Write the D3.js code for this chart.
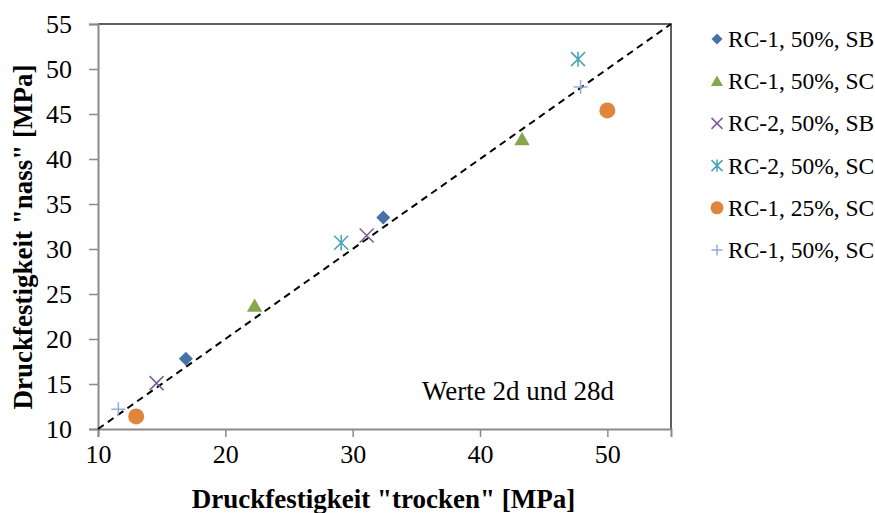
<!DOCTYPE html>
<html>
<head>
<meta charset="utf-8">
<script src="https://cdn.jsdelivr.net/npm/d3@7"></script>
<style>
  html, body { margin: 0; padding: 0; background: #fff; }
  svg text { font-family: "Liberation Serif", serif; fill: #000; }
</style>
</head>
<body>
<svg id="chart" width="875" height="513"></svg>
<script>
// Compressive strength: dry vs. wet, per mix
const seriesNames = [
  "RC-1, 50%, SB",
  "RC-1, 50%, SC",
  "RC-2, 50%, SB",
  "RC-2, 50%, SC",
  "RC-1, 25%, SC",
  "RC-1, 50%, SC"
];
const seriesSymbols = ["diamond", "triangle", "cross", "asterisk", "circle", "plus"];
const seriesColors = ["#4672a8", "#88a64c", "#7b5c9e", "#45a2ba", "#e0863c", "#94aedb"];
// [trocken, nass] pairs at 2d and 28d
const rc1_50_SB = [[16.9, 17.8], [32.4, 33.5]];
const rc1_50_SC = [[22.3, 23.7], [43.3, 42.2]];
const rc2_50_SB = [[14.6, 15.1], [31.1, 31.5]];
const rc2_50_SC = [[29.1, 30.7], [47.7, 51.1]];
const rc1_25_SC = [[13.0, 11.4], [50.0, 45.4]];
const rc1_50_SC_b = [[11.6, 12.2], [47.9, 48.0]];
const seriesData = [rc1_50_SB, rc1_50_SC, rc2_50_SB, rc2_50_SC, rc1_25_SC, rc1_50_SC_b];

const xTicks = [10, 20, 30, 40, 50];
const yTicks = [10, 15, 20, 25, 30, 35, 40, 45, 50, 55];
const xDomain = [10, 55];
const yDomain = [10, 55];
const identityLine = [[10, 10], [55, 55]];

const FONT = "'Liberation Serif', serif";
const svg = d3.select("#chart");
const plot = { left: 98, top: 24, right: 671, bottom: 429 };

const x = d3.scaleLinear().domain(xDomain).range([plot.left, plot.right]);
const y = d3.scaleLinear().domain(yDomain).range([plot.bottom, plot.top]);

// top and right frame
svg.append("path")
  .attr("d", `M${plot.left},${plot.top}H${plot.right}V${plot.bottom}`)
  .attr("fill", "none").attr("stroke", "#2b2b2b").attr("stroke-width", 1.5);

// axes
const xAxis = svg.append("g")
  .attr("transform", `translate(0,${plot.bottom})`)
  .call(d3.axisBottom(x).tickValues(xTicks).tickSize(8).tickPadding(8).tickFormat(d3.format("d")));
const yAxis = svg.append("g")
  .attr("transform", `translate(${plot.left},0)`)
  .call(d3.axisLeft(y).tickValues(yTicks).tickSize(9).tickPadding(17).tickFormat(d3.format("d")));

[xAxis, yAxis].forEach(g => {
  g.attr("font-family", FONT).attr("font-size", 26);
  g.select(".domain").attr("stroke", "#8a8a8a").attr("stroke-width", 2);
  g.selectAll(".tick line").attr("stroke", "#8a8a8a").attr("stroke-width", 1.5);
  g.selectAll(".tick text")
    .attr("fill", "#000")
    .style("font-family", FONT)
    .style("font-size", "26px");
});
yAxis.selectAll(".tick text").attr("dy", "0.34em");

// 1:1 reference line
svg.append("path")
  .datum(identityLine)
  .attr("d", d3.line().x(d => x(d[0])).y(d => y(d[1])))
  .attr("fill", "none")
  .attr("stroke", "#000")
  .attr("stroke-width", 2)
  .attr("stroke-dasharray", "7,5");

// marker drawing
function drawMarker(g, sym, color, s) {
  const r = s / 2;
  if (sym === "diamond") {
    g.append("path").attr("d", `M0,${-r}L${r},0L0,${r}L${-r},0Z`).attr("fill", color);
  } else if (sym === "triangle") {
    const h = s * 0.95, w = s * 1.1;
    g.append("path")
      .attr("d", `M0,${-h * 0.55}L${w / 2},${h * 0.45}L${-w / 2},${h * 0.45}Z`)
      .attr("fill", color);
  } else if (sym === "circle") {
    g.append("circle").attr("r", r + 0.5).attr("fill", color);
  } else if (sym === "cross") {
    g.append("path").attr("d", `M${-r},${-r}L${r},${r}M${-r},${r}L${r},${-r}`)
      .attr("stroke", color).attr("stroke-width", 1.5).attr("fill", "none");
  } else if (sym === "plus") {
    g.append("path").attr("d", `M${-r},0H${r}M0,${-r}V${r}`)
      .attr("stroke", color).attr("stroke-width", 1.5).attr("fill", "none");
  } else if (sym === "asterisk") {
    g.append("path").attr("d", `M${-r},${-r}L${r},${r}M${-r},${r}L${r},${-r}M0,${-r * 1.1}V${r * 1.1}`)
      .attr("stroke", color).attr("stroke-width", 1.5).attr("fill", "none");
  }
}

// data points
seriesData.forEach((pts, i) => {
  pts.forEach(p => {
    const g = svg.append("g").attr("transform", `translate(${x(p[0])},${y(p[1])})`);
    drawMarker(g, seriesSymbols[i], seriesColors[i], i === 4 ? 15 : 14);
  });
});

// annotation
svg.append("text")
  .attr("x", 422).attr("y", 400)
  .style("font-family", FONT).style("font-size", "27px")
  .text("Werte 2d und 28d");

// axis titles
svg.append("text")
  .attr("x", (plot.left + plot.right) / 2 - 1).attr("y", 508)
  .attr("text-anchor", "middle")
  .style("font-family", FONT).style("font-size", "27px").style("font-weight", "bold")
  .text('Druckfestigkeit "trocken" [MPa]');
svg.append("text")
  .attr("transform", `translate(32,237) rotate(-90)`)
  .attr("text-anchor", "middle")
  .style("font-family", FONT).style("font-size", "27px").style("font-weight", "bold")
  .text('Druckfestigkeit "nass" [MPa]');

// legend
const legend = svg.append("g");
seriesNames.forEach((name, i) => {
  const cy = 39 + i * 42.2;
  const g = legend.append("g").attr("transform", `translate(717,${cy})`);
  drawMarker(g, seriesSymbols[i], seriesColors[i], i === 4 ? 12 : 11);
  legend.append("text")
    .attr("x", 728).attr("y", cy).attr("dy", "0.34em")
    .style("font-family", FONT).style("font-size", "23.5px")
    .text(name);
});
</script>
</body>
</html>
